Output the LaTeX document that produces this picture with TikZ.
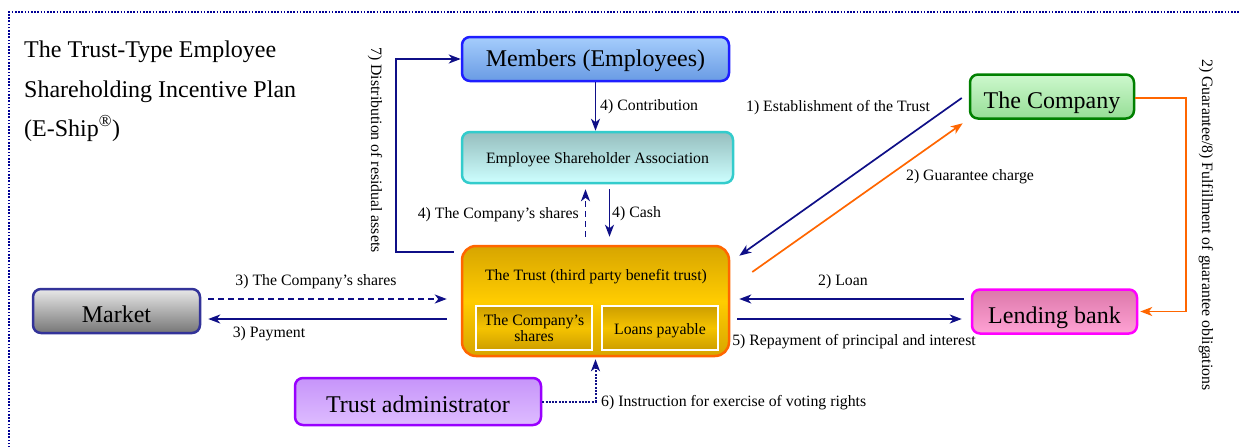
\documentclass[tikz,border=0pt]{standalone}
\usepackage{fontspec}
\setmainfont{Liberation Serif}
\usetikzlibrary{arrows.meta,calc,shadings}
\definecolor{navy}{RGB}{15,15,135}
\definecolor{orng}{RGB}{255,102,0}
\definecolor{framec}{RGB}{0,0,150}
\definecolor{memB}{RGB}{30,30,255}
\definecolor{memT}{RGB}{165,205,252}
\definecolor{memBt}{RGB}{105,155,228}
\definecolor{esaB}{RGB}{51,204,204}
\definecolor{esaT}{RGB}{150,190,190}
\definecolor{esaBt}{RGB}{205,255,255}
\definecolor{trT}{RGB}{215,165,0}
\definecolor{trM}{RGB}{255,204,0}
\definecolor{inT}{RGB}{205,158,0}
\definecolor{inM}{RGB}{245,195,0}
\definecolor{mkB}{RGB}{51,51,153}
\definecolor{mkT}{RGB}{232,232,232}
\definecolor{mkBt}{RGB}{118,118,118}
\definecolor{adB}{RGB}{153,0,255}
\definecolor{adT}{RGB}{198,148,250}
\definecolor{adBt}{RGB}{222,188,255}
\definecolor{coB}{RGB}{0,128,0}
\definecolor{coT}{RGB}{205,248,205}
\definecolor{coBt}{RGB}{150,222,150}
\definecolor{bkB}{RGB}{255,0,255}
\definecolor{bkT}{RGB}{220,120,170}
\definecolor{bkBt}{RGB}{255,162,212}
\tikzset{
  box/.style={rounded corners=8pt, line width=2.5pt, align=center, inner sep=0pt, font=\fontsize{24}{28}\selectfont, text height=23pt, text depth=0pt},
  inbox/.style={draw=white, line width=2pt, inner sep=0pt, align=center, top color=inT, bottom color=inT, middle color=inM, minimum width=116pt, minimum height=44pt},
  lbl/.style={font=\fontsize{15.8}{18}\selectfont, inner sep=0pt},
  conn/.style={line width=1.7pt, draw=navy, -{Stealth[length=12pt,width=9pt,inset=3.5pt]}},
  oconn/.style={line width=1.7pt, draw=orng, -{Stealth[length=12pt,width=9pt,inset=3.5pt]}},
  dashconn/.style={conn, line width=1.9pt, dash pattern=on 6pt off 4pt},
  dotconn/.style={conn, line width=2pt, dash pattern=on 2pt off 1.3pt},
  ttl/.style={font=\fontsize{24}{28}\selectfont, anchor=base west, inner sep=0pt}
}
\begin{document}
\begin{tikzpicture}[x=1pt,y=-1pt]
\useasboundingbox (0,0) rectangle (1240,447);
\fill[white] (0,0) rectangle (1240,447);
% frame
\draw[framec, line width=1.6pt, dash pattern=on 1.6pt off 1.6pt] (9,470) -- (9,12) -- (1265,12);
% title
\node[ttl] (t1) at (24,57) {The Trust-Type Employee};
\node[ttl] (t2) at (24,97) {Shareholding Incentive Plan};
\node[ttl] (t3) at (24,136) {(E-Ship\textsuperscript{®})};
% nodes
\node[box, draw=memB, top color=memT, bottom color=memBt, minimum width=267pt, minimum height=44pt, text height=14pt] (mem) at (595.5,59) {Members (Employees)};
\node[box, draw=esaB, top color=esaT, bottom color=esaBt, minimum width=271pt, minimum height=51pt, font=\fontsize{15.8}{18}\selectfont, text height=12pt] (esa) at (597.5,157.5) {Employee Shareholder Association};
\node[box, rounded corners=14pt, draw=orng, top color=trT, bottom color=trT, middle color=trM, minimum width=267pt, minimum height=110pt] (trust) at (595.5,301) {};
\node[lbl, anchor=base] (trusttxt) at (596,280) {The Trust (third party benefit trust)};
\node[inbox] (sh) at (534,328) {};
\node[lbl, anchor=base] (shtxt1) at (534,325) {The Company’s};
\node[lbl, anchor=base] (shtxt2) at (534,341.5) {shares};
\node[inbox] (lp) at (660,328) {};
\node[lbl, anchor=base] (lptxt) at (660,334) {Loans payable};
\node[box, draw=mkB, top color=mkT, bottom color=mkBt, minimum width=167pt, minimum height=44pt] (mkt) at (116.5,311) {Market};
\node[box, draw=adB, top color=adT, bottom color=adBt, minimum width=246pt, minimum height=47pt, text height=21pt] (adm) at (418,401.5) {Trust administrator};
\node[box, draw=coB, top color=coT, bottom color=coBt, minimum width=164pt, minimum height=44pt] (co) at (1052,96.5) {The Company};
\node[box, draw=bkB, top color=bkT, bottom color=bkBt, minimum width=165pt, minimum height=44pt] (bank) at (1054.5,311.5) {Lending bank};
% helper coordinates
\coordinate (xa) at (585.5,0);
\coordinate (xb) at (609.5,0);
\coordinate (y299) at (0,299);
\coordinate (y319) at (0,319);
% connectors
\draw[conn] (mem.south) -- (mem.south |- esa.north);
\node[lbl, anchor=west] (lc) at (600,107) {4) Contribution};
\draw[dashconn, shorten <=8pt, shorten >=5pt] (trust.north -| xa) -- (esa.south -| xa);
\draw[conn, shorten <=5pt, shorten >=8pt] (esa.south -| xb) -- (trust.north -| xb);
\node[lbl, anchor=east] (lsh) at (579,215) {4) The Company’s shares};
\node[lbl, anchor=west] (lcash) at (612,214) {4) Cash};
\draw[conn] ($(trust.north west)+(-7,7)$) -- ++(-58,0) |- (mem.west);
\node[lbl, rotate=-90] (ldist) at (375,150) {7) Distribution of residual assets};
\draw[conn] ($(co.west)+(-7,1.5)$) -- ($(trust.north east)+(9,11)$);
\node[lbl] (lest) at (838,108) {1) Establishment of the Trust};
\draw[oconn] ($(trust.east)+(22,-29)$) -- ($(co.south west)+(-6,3.5)$);
\node[lbl] (lgc) at (970,177) {2) Guarantee charge};
\draw[oconn, shorten >=2pt] ($(co.east)+(0,1.5)$) -- ++(51,0) |- (bank.east);
\node[lbl, rotate=-90] (lgu) at (1206,225) {2) Guarantee/8) Fulfillment of guarantee obligations};
\draw[conn, shorten <=7pt, shorten >=9pt] (bank.west |- y299) -- (trust.east |- y299);
\node[lbl] (lloan) at (843,282) {2) Loan};
\draw[conn, shorten <=7pt, shorten >=9pt] (trust.east |- y319) -- (bank.west |- y319);
\node[lbl] (lrep) at (854,342) {5) Repayment of principal and interest};
\draw[dashconn, shorten <=7pt, shorten >=14pt] (mkt.east |- y299) -- (trust.west |- y299);
\node[lbl] (lmsh) at (316,282) {3) The Company’s shares};
\draw[conn, shorten <=14pt, shorten >=7pt] (trust.west |- y319) -- (mkt.east |- y319);
\node[lbl] (lpay) at (269,334) {3) Payment};
\draw[dotconn, shorten >=2pt] (adm.east) -| (trust.south);
\node[lbl, anchor=west] (lvote) at (601,403) {6) Instruction for exercise of voting rights};
\end{tikzpicture}
\end{document}
